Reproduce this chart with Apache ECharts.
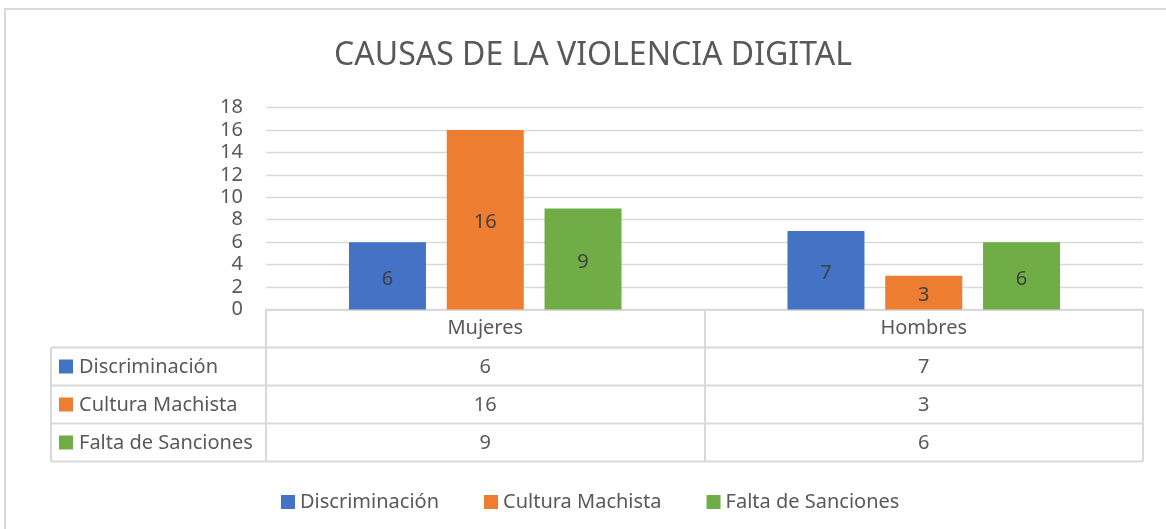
<!DOCTYPE html>
<html>
<head>
<meta charset="utf-8">
<script src="https://cdn.jsdelivr.net/npm/echarts@6/dist/echarts.min.js"></script>
<style>
html, body { margin: 0; padding: 0; background: #fff; }
#chart { width: 1166px; height: 529px; }
</style>
</head>
<body>
<div id="chart"></div>
<script>
// data
const categories = ['Mujeres', 'Hombres']
const seriesNames = ['Discriminación', 'Cultura Machista', 'Falta de Sanciones']
const discriminacion = [6, 7]
const culturaMachista = [16, 3]
const faltaSanciones = [9, 6]
const yMin = 0, yMax = 18, yStep = 2

const values = [discriminacion, culturaMachista, faltaSanciones]
const colors = ['#4472C4', '#ED7D31', '#70AD47']
const textColor = '#595959'
const lineColor = '#D9D9D9'
const font = 'Noto Sans'

// plot + data table layout
const plotLeft = 266, plotRight = 1143, plotTop = 107.5, axisY = 309.5
const rowH = 38, tableLeft = 51

var chart = echarts.init(document.getElementById('chart'))

// one extra category axis per table row, so the values sit under their category
const tableAxes = values.map(function(vals, i) {
    return {
        type: 'category',
        gridIndex: 0,
        position: 'bottom',
        offset: rowH * (i + 1),
        data: vals.map(String),
        axisLine: { show: false },
        axisTick: { show: false },
        splitLine: { show: false },
        axisLabel: { margin: 10, color: textColor, fontSize: 20, fontFamily: font }
    }
})

const graphics = []
// chart frame
graphics.push({
    type: 'rect', silent: true,
    shape: { x: 5, y: 9, width: 1200, height: 600 },
    style: { fill: null, stroke: lineColor, lineWidth: 2 }
})
// table rows
for (let i = 1; i <= values.length + 1; i++) {
    const y = axisY + rowH * i
    graphics.push({
        type: 'line', silent: true,
        shape: { x1: tableLeft, y1: y, x2: plotRight, y2: y },
        style: { stroke: lineColor, lineWidth: 2 }
    })
}
graphics.push({
    type: 'line', silent: true,
    shape: { x1: tableLeft, y1: axisY + rowH, x2: tableLeft, y2: axisY + rowH * (values.length + 1) },
    style: { stroke: lineColor, lineWidth: 2 }
})
// row headers with legend keys
seriesNames.forEach(function(name, i) {
    const cy = axisY + rowH * (i + 1) + rowH / 2
    graphics.push({
        type: 'rect', silent: true,
        shape: { x: 59, y: cy - 7, width: 14, height: 14 },
        style: { fill: colors[i] }
    })
    graphics.push({
        type: 'text', silent: true, x: 79, y: cy + 1,
        style: { text: name, fill: textColor, fontSize: 20, fontFamily: font, verticalAlign: 'middle' }
    })
})

var option = {
    animation: false,
    color: colors,
    title: {
        text: 'CAUSAS DE LA VIOLENCIA DIGITAL',
        left: 588,
        textAlign: 'center',
        top: 35,
        textStyle: { color: textColor, fontSize: 32, fontWeight: 'normal', fontFamily: font }
    },
    legend: {
        data: seriesNames,
        left: 276,
        top: 487,
        icon: 'rect',
        itemWidth: 14,
        itemHeight: 14,
        itemGap: 45,
        textStyle: { color: textColor, fontSize: 20, fontFamily: font }
    },
    grid: {
        left: plotLeft,
        right: 1166 - plotRight,
        top: plotTop,
        bottom: 529 - axisY,
        containLabel: false
    },
    xAxis: [{
        type: 'category',
        data: categories,
        axisLine: { lineStyle: { color: lineColor, width: 2 } },
        axisTick: { show: true, length: rowH * 4, lineStyle: { color: lineColor, width: 2 } },
        axisLabel: { margin: 9, color: textColor, fontSize: 20, fontFamily: font },
        splitLine: { show: false }
    }].concat(tableAxes),
    yAxis: {
        type: 'value',
        min: yMin,
        max: yMax,
        interval: yStep,
        axisLine: { show: false },
        axisTick: { show: false },
        axisLabel: { margin: 23, color: textColor, fontSize: 20, fontFamily: font },
        splitLine: { lineStyle: { color: lineColor, width: 1.3 } }
    },
    series: seriesNames.map(function(name, i) {
        return {
            type: 'bar',
            name: name,
            data: values[i],
            barWidth: 77,
            barGap: '27%',
            label: {
                show: true,
                position: 'inside',
                offset: [0, 3],
                color: '#404040',
                fontSize: 20,
                fontFamily: font
            }
        }
    }),
    graphic: graphics
}

chart.setOption(option)
</script>
</body>
</html>
